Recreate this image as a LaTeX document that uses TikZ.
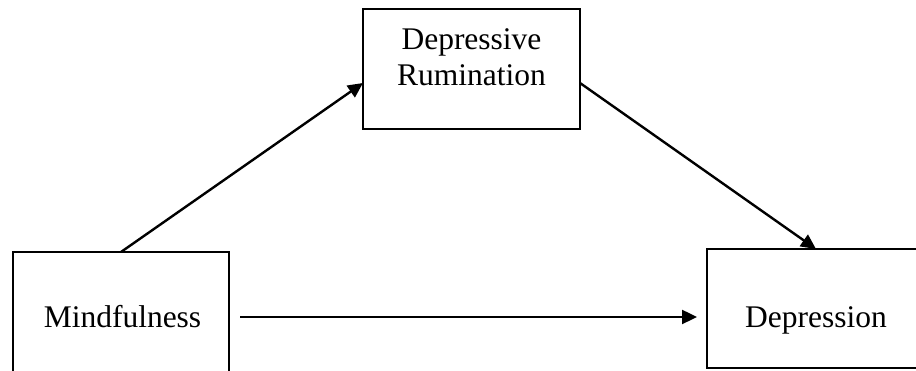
\documentclass[tikz,border=0pt]{standalone}
\usepackage{fontspec}
\setmainfont{Liberation Serif}
\usetikzlibrary{arrows.meta}
\begin{document}
\begin{tikzpicture}[x=1pt,y=1pt,
  box/.style={draw=black, line width=2.3pt, fill=white, rectangle, inner sep=0pt, outer sep=0pt},
  lbl/.style={font=\fontsize{31.5}{36}\selectfont, anchor=base, inner sep=0pt},
  conn/.style={line width=2.4pt, -{Triangle[length=15pt,width=14pt]}}]
\useasboundingbox (0,0) rectangle (916,371);
\clip (0,0) rectangle (916,371);
% boxes
\node[box, minimum width=217pt, minimum height=120pt] (rum) at (471.5,302) {};
\node[box, minimum width=216pt, minimum height=130pt] (mind) at (121,54) {};
\node[box, minimum width=240pt, minimum height=119pt] (dep) at (827,62.5) {};
% labels
\node[lbl] (t1) at (471.5,321) {Depressive};
\node[lbl] (t2) at (471.5,285) {Rumination};
\node[lbl] (t3) at (122.5,43) {Mindfulness};
\node[lbl] (t4) at (816,43) {Depression};
% connectors
\draw[conn] (mind.north) -- ([yshift=-14pt]rum.west);
\draw[conn] ([yshift=-14pt]rum.east) -- ([xshift=-11pt]dep.north);
\draw[conn] ([xshift=11pt]mind.east) -- ([xshift=-10pt]mind.east -| dep.west);
\end{tikzpicture}
\end{document}
